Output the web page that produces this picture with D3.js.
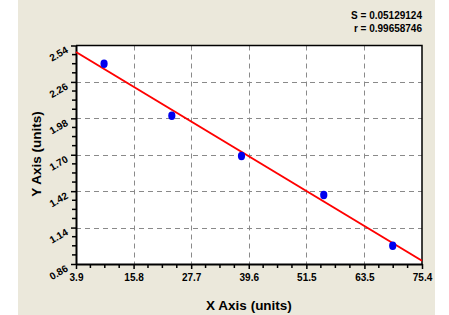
<!DOCTYPE html>
<html><head><meta charset="utf-8">
<script src="https://cdn.jsdelivr.net/npm/d3@7"></script>
<style>body{margin:0;background:#fff}svg{display:block}</style>
</head><body>
<script>
const xTicks = [3.9, 15.8, 27.7, 39.6, 51.5, 63.5, 75.4];
const yTicks = [0.86, 1.14, 1.42, 1.70, 1.98, 2.26, 2.54];
const pointX = [9.7, 23.7, 38.1, 55.1, 69.35];
const pointY = [2.40, 2.00, 1.69, 1.39, 1.00];
const fitX = [3.9, 75.4];
const fitY = [2.49, 0.885];
const statLines = ["S = 0.05129124", "r = 0.99658746"];
const xTitle = "X Axis (units)";
const yTitle = "Y Axis (units)";

const W = 449, H = 315;
const m = {l: 76, r: 27, t: 45.5, b: 51};
const svg = d3.select("body").append("svg").attr("width", W).attr("height", H);
svg.append("rect").attr("x", 18).attr("y", 0).attr("width", 417).attr("height", H).attr("fill", "#ebe8db");

const x = d3.scaleLinear().domain([3.9, 75.4]).range([m.l, W - m.r]);
const y = d3.scaleLinear().domain([0.86, 2.54]).range([H - m.b, m.t]);
const font = "Arial, 'Liberation Sans', sans-serif";

svg.append("rect").attr("x", x(3.9)).attr("y", y(2.54)).attr("width", x(75.4) - x(3.9)).attr("height", y(0.86) - y(2.54)).attr("fill", "#fff");

// grid
const g = svg.append("g");
g.selectAll(".vg").data(xTicks.slice(1, -1)).join("line")
  .attr("x1", d => Math.round(x(d)) + 0.5).attr("x2", d => Math.round(x(d)) + 0.5)
  .attr("y1", y(2.54)).attr("y2", y(0.86))
  .attr("stroke", "#8a8a8a").attr("stroke-dasharray", "5,4");
g.selectAll(".hg").data(yTicks.slice(1, -1)).join("line")
  .attr("y1", d => Math.round(y(d)) + 0.5).attr("y2", d => Math.round(y(d)) + 0.5)
  .attr("x1", x(3.9)).attr("x2", x(75.4))
  .attr("stroke", "#8a8a8a").attr("stroke-dasharray", "5,4");

// minor ticks
const xMinor = [], yMinor = [];
for (let i = 0; i < xTicks.length - 1; i++) for (let k = 1; k < 4; k++) xMinor.push(xTicks[i] + (xTicks[i+1] - xTicks[i]) * k / 4);
for (let i = 0; i < yTicks.length - 1; i++) for (let k = 1; k < 4; k++) yMinor.push(yTicks[i] + (yTicks[i+1] - yTicks[i]) * k / 4);

const xAxis = d3.axisBottom(x).tickValues(xTicks).tickFormat(d => d.toFixed(1)).tickSize(5).tickSizeOuter(0);
const xa = svg.append("g").attr("transform", `translate(0,${y(0.86)})`).call(xAxis);
xa.select(".domain").attr("stroke", "#000").attr("stroke-width", 2);
xa.selectAll("text").attr("font-family", font).attr("font-weight", "bold").attr("font-size", 10).attr("fill", "#000").attr("dy", "0.9em");
xa.selectAll(".tick line").attr("stroke-width", 1.5);
svg.append("g").selectAll("line").data(xMinor).join("line")
  .attr("x1", d => x(d)).attr("x2", d => x(d)).attr("y1", y(0.86)).attr("y2", y(0.86) + 4)
  .attr("stroke", "#000").attr("stroke-width", 1.5);

const yAxis = d3.axisLeft(y).tickValues(yTicks).tickFormat(d => d.toFixed(2)).tickSize(5).tickSizeOuter(0);
const ya = svg.append("g").attr("transform", `translate(${x(3.9)},0)`).call(yAxis);
ya.select(".domain").attr("stroke", "#000").attr("stroke-width", 2);
ya.selectAll(".tick line").attr("stroke-width", 1.5);
ya.selectAll(".tick text").attr("font-family", font).attr("font-weight", "bold").attr("font-size", 10).attr("fill", "#000")
  .attr("text-anchor", "end").attr("x", 0).attr("y", 0).attr("dy", "0.35em")
  .attr("transform", "translate(-9,3) rotate(-30)");
svg.append("g").selectAll("line").data(yMinor).join("line")
  .attr("y1", d => y(d)).attr("y2", d => y(d)).attr("x1", x(3.9)).attr("x2", x(3.9) - 4)
  .attr("stroke", "#000").attr("stroke-width", 1.5);

// top/right border
svg.append("path").attr("d", `M${x(3.9)},${y(2.54)}H${x(75.4)}V${y(0.86)}`).attr("fill", "none").attr("stroke", "#000").attr("stroke-width", 1.5);

// fit line
svg.append("line").attr("x1", x(fitX[0])).attr("y1", y(fitY[0])).attr("x2", x(fitX[1])).attr("y2", y(fitY[1]))
  .attr("stroke", "#ff0000").attr("stroke-width", 2);

// points
svg.append("g").selectAll("ellipse").data(pointX.map((v, i) => [v, pointY[i]])).join("ellipse")
  .attr("cx", d => x(d[0])).attr("cy", d => y(d[1])).attr("rx", 3.6).attr("ry", 4.2).attr("fill", "#0000ee");

// titles
svg.append("text").attr("x", 249).attr("y", 310).attr("text-anchor", "middle")
  .attr("font-family", font).attr("font-weight", "bold").attr("font-size", 13.5).text(xTitle);
svg.append("text").attr("transform", "translate(41,154) rotate(-90)").attr("text-anchor", "middle")
  .attr("font-family", font).attr("font-weight", "bold").attr("font-size", 13.5).text(yTitle);

svg.append("g").selectAll("text").data(statLines).join("text")
  .attr("x", 422).attr("y", (d, i) => 19 + i * 13).attr("text-anchor", "end")
  .attr("font-family", font).attr("font-weight", "bold").attr("font-size", 10).text(d => d);
</script>
</body></html>
